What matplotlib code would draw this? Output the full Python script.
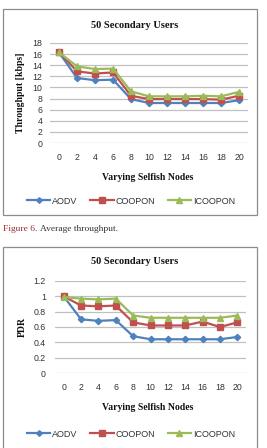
import matplotlib
matplotlib.use("Agg")
import matplotlib.pyplot as plt
from matplotlib.patches import Rectangle

W, H = 267, 448

nodes = [0, 2, 4, 6, 8, 10, 12, 14, 16, 18, 20]
series_names = ["AODV", "COOPON", "ICOOPON"]

thr_aodv = [16.3, 11.7, 11.3, 11.4, 7.9, 7.2, 7.2, 7.2, 7.2, 7.2, 7.7]
thr_coopon = [16.4, 12.9, 12.5, 12.7, 8.5, 7.9, 7.9, 7.9, 7.9, 7.8, 8.5]
thr_icoopon = [16.3, 13.8, 13.3, 13.4, 9.3, 8.4, 8.4, 8.4, 8.5, 8.4, 9.2]

pdr_aodv = [1.0, 0.70, 0.68, 0.69, 0.48, 0.44, 0.44, 0.44, 0.44, 0.44, 0.47]
pdr_coopon = [1.0, 0.88, 0.87, 0.88, 0.66, 0.62, 0.62, 0.62, 0.67, 0.60, 0.66]
pdr_icoopon = [0.99, 0.97, 0.96, 0.97, 0.75, 0.72, 0.72, 0.72, 0.72, 0.72, 0.75]

colors = ["#4F81BD", "#C0504D", "#9BBB59"]
markers = ["D", "s", "^"]
msizes = [3.2, 4.5, 4.5]

SERIF = "Liberation Serif"
SANS = "Liberation Sans"


def px_axes(fig, left, top, right, bottom):
    # pixel box (from top-left) -> figure fraction
    return fig.add_axes([left / W, 1 - bottom / H, (right - left) / W, (bottom - top) / H])


def draw_box(fig, left, top, right, bottom):
    fig.patches.append(Rectangle((left / W, 1 - bottom / H), (right - left) / W, (bottom - top) / H,
                                 transform=fig.transFigure, fill=False, edgecolor="#8c8c8c",
                                 linewidth=0.9, zorder=0))


def chart(fig, box, axbox, data, ylim, yticks, ylabel, ylabel_x, title_y, xlabel_y, legend_y, ypad):
    draw_box(fig, *box)
    ax = px_axes(fig, *axbox)
    for vals, c, m, ms, name in zip(data, colors, markers, msizes, series_names):
        ax.plot(nodes, vals, color=c, marker=m, markersize=ms, linewidth=1.6, label=name,
                markeredgecolor=c, clip_on=False)
    ax.set_xlim(-1, 21)
    ax.set_ylim(*ylim)
    ax.set_xticks(nodes)
    ax.set_yticks(yticks)
    ax.set_yticklabels([("%g" % t) for t in yticks])
    for s in ax.spines.values():
        s.set_visible(False)
    ax.grid(axis="y", color="#c0c0c0", linewidth=0.9)
    ax.set_axisbelow(True)
    ax.tick_params(length=0, labelsize=6.3, colors="#333333")
    ax.tick_params(axis="y", pad=ypad)
    ax.tick_params(axis="x", pad=7)
    for lab in ax.get_xticklabels() + ax.get_yticklabels():
        lab.set_fontfamily(SANS)
    fig.text(135 / W, 1 - title_y / H, "50 Secondary Users", ha="center", va="center",
             fontsize=7.5, fontweight="bold", family=SERIF, color="#111111")
    fig.text(ylabel_x / W, 1 - (axbox[1] + axbox[3]) / 2 / H, ylabel, ha="center", va="center",
             rotation=90, fontsize=7, fontweight="bold", family=SERIF, color="#111111")
    fig.text(148 / W, 1 - xlabel_y / H, "Varying Selfish Nodes", ha="center", va="center",
             fontsize=7, fontweight="bold", family=SERIF, color="#111111")
    leg = ax.legend(loc="center", bbox_to_anchor=(131 / W, 1 - legend_y / H),
                    bbox_transform=fig.transFigure, ncol=3, frameon=False,
                    prop={"family": SANS, "size": 6.5}, handlelength=2.6, handletextpad=0.2,
                    columnspacing=1.4, markerscale=0.9)
    for t in leg.get_texts():
        t.set_color("#333333")
    return ax


fig = plt.figure(figsize=(W / 100, H / 100), dpi=100)

chart(fig, (3, 9, 257, 215), (50, 43, 248, 143),
      [thr_aodv, thr_coopon, thr_icoopon], (0, 18), list(range(0, 19, 2)),
      "Throughput [kbps]", 21, 26, 177, 201, 5.5)

fig.text(3 / W, 1 - 229 / H, "Figure 6.", ha="left", va="center", fontsize=6.8,
         family=SERIF, color="#9e2a2b")
fig.text(40 / W, 1 - 229 / H, "Average throughput.", ha="left", va="center", fontsize=6.8,
         family=SERIF, color="#333333")

chart(fig, (3, 247, 257, 452), (55, 281, 246, 373),
      [pdr_aodv, pdr_coopon, pdr_icoopon], (0, 1.2), [0, 0.2, 0.4, 0.6, 0.8, 1, 1.2],
      "PDR", 22, 261, 407, 434, 6.5)

fig.savefig("out.png", dpi=100)
